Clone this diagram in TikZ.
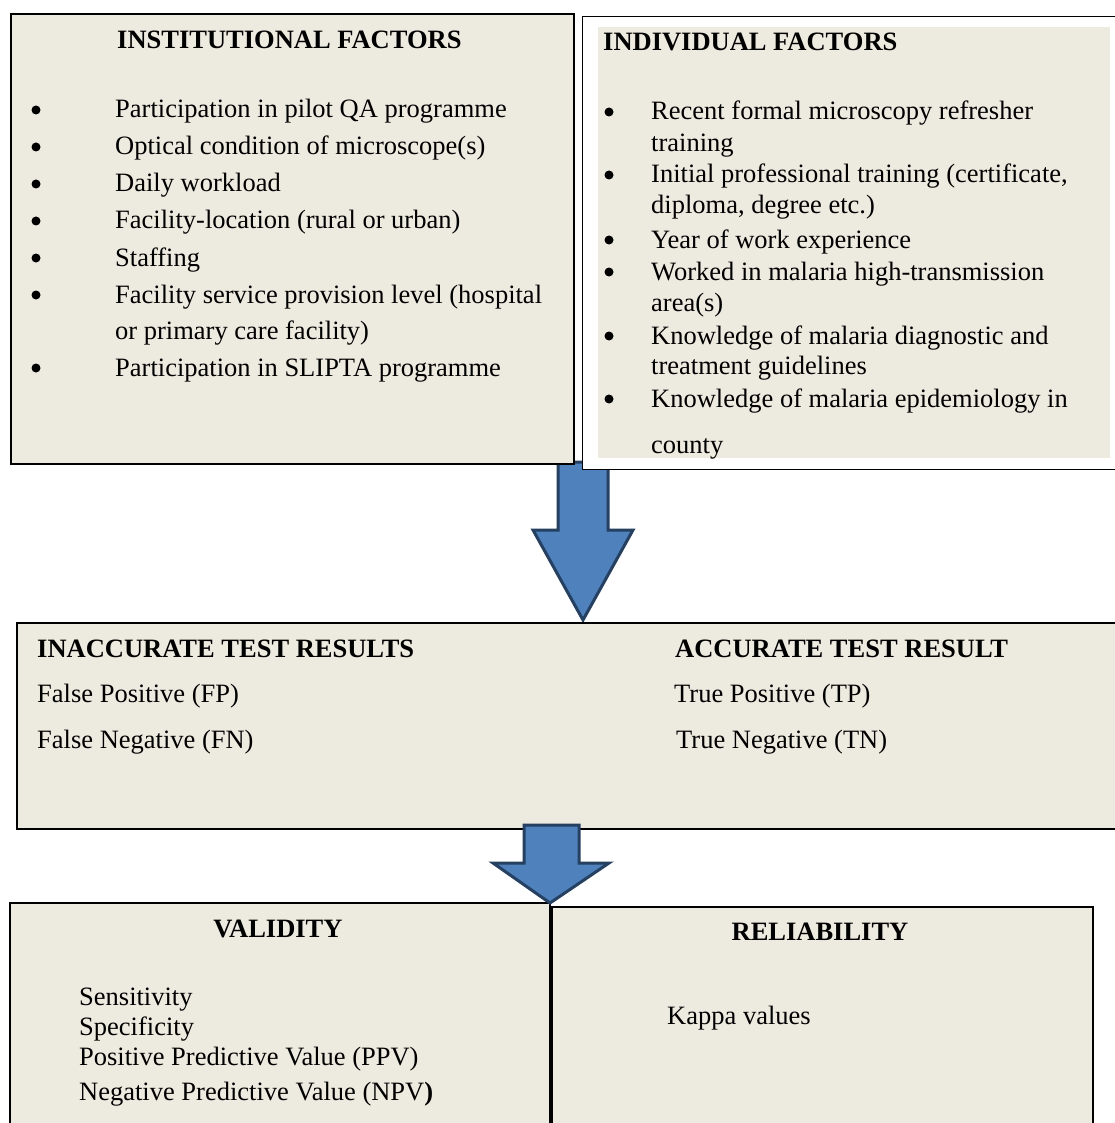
\documentclass[tikz,border=0pt]{standalone}
\usepackage{fontspec}
\setmainfont{Liberation Serif}
\definecolor{beige}{RGB}{237,234,224}
\definecolor{arrowfill}{RGB}{79,129,189}
\definecolor{arrowline}{RGB}{37,64,97}
\begin{document}
\begin{tikzpicture}[x=1pt,y=-1pt,
  box/.style={draw=black, line width=1.8pt, fill=beige, inner sep=0pt, anchor=north west},
  txt/.style={anchor=base west, inner sep=0pt, font=\fontsize{26.5}{30}\selectfont},
  hd/.style={anchor=base west, inner sep=0pt, font=\fontsize{26.5}{30}\selectfont\bfseries},
  hdc/.style={anchor=base, inner sep=0pt, font=\fontsize{26.5}{30}\selectfont\bfseries},
  bul/.style={circle, fill=black, inner sep=0pt, minimum size=9pt},
  blockarrow/.style={fill=arrowfill, draw=arrowline, line width=3pt, line join=miter}]
\useasboundingbox (0,0) rectangle (1114,1123);
% first block arrow (behind the top boxes)
\draw[blockarrow] (558,462) -- (608,462) -- (608,530) -- (633,530) -- (583,620) -- (533,530) -- (558,530) -- cycle;
% top boxes
\node[box, minimum width=563pt, minimum height=450pt] (inst) at (10,13) {};
\node[box, fill=white, line width=1.3pt, minimum width=536pt, minimum height=453pt] (indiv) at (582,16) {};
\node[anchor=north west, inner sep=0pt, fill=beige, minimum width=512pt, minimum height=431pt] (indivfill) at (598,27) {};
% middle box
\node[box, line width=1.6pt, minimum width=1110pt, minimum height=206pt] (result) at (16,622) {};
% bottom boxes
\node[box, minimum width=540pt, minimum height=240pt] (valid) at (9,902) {};
\node[box, minimum width=541pt, minimum height=240pt] (reliab) at (551,906) {};
% second block arrow
\draw[blockarrow] (524,825) -- (579,825) -- (579,863) -- (609,863) -- (550,903) -- (493,863) -- (524,863) -- cycle;

% institutional factors
\node[hd] (insth) at (117,49) {INSTITUTIONAL FACTORS};
\foreach \y [count=\i] in {118,155,192,229,266,303,376}
  \node[bul] (ib\i) at (36,\y-8) {};
\node[txt] (i1) at (115,118) {Participation in pilot QA programme};
\node[txt] (i2) at (115,155) {Optical condition of microscope(s)};
\node[txt] (i3) at (115,192) {Daily workload};
\node[txt] (i4) at (115,229) {Facility-location (rural or urban)};
\node[txt] (i5) at (115,266) {Staffing};
\node[txt] (i6) at (115,303) {Facility service provision level (hospital};
\node[txt] (i6b) at (115,339) {or primary care facility)};
\node[txt] (i7) at (115,376) {Participation in SLIPTA programme};

% individual factors
\node[hd] (indh) at (603,51) {INDIVIDUAL FACTORS};
\foreach \y [count=\i] in {120,183,248,280,344,407}
  \node[bul] (db\i) at (609,\y-8) {};
\node[txt] (d1) at (651,120) {Recent formal microscopy refresher};
\node[txt] (d1b) at (651,152) {training};
\node[txt] (d2) at (651,183) {Initial professional training (certificate,};
\node[txt] (d2b) at (651,214) {diploma, degree etc.)};
\node[txt] (d3) at (651,248) {Year of work experience};
\node[txt] (d4) at (651,280) {Worked in malaria high-transmission};
\node[txt] (d4b) at (651,311) {area(s)};
\node[txt] (d5) at (651,344) {Knowledge of malaria diagnostic and};
\node[txt] (d5b) at (651,374) {treatment guidelines};
\node[txt] (d6) at (651,407) {Knowledge of malaria epidemiology in};
\node[txt] (d6b) at (651,453) {county};

% results
\node[hd] (inacc) at (37,657) {INACCURATE TEST RESULTS};
\node[txt] (fp) at (37,702) {False Positive (FP)};
\node[txt] (fn) at (37,748) {False Negative (FN)};
\node[hd] (acc) at (675,657) {ACCURATE TEST RESULT};
\node[txt] (tp) at (674,702) {True Positive (TP)};
\node[txt] (tn) at (676,748) {True Negative (TN)};

% validity
\node[hdc] (validh) at (278,937) {VALIDITY};
\node[txt] (v1) at (79,1005) {Sensitivity};
\node[txt] (v2) at (79,1035) {Specificity};
\node[txt] (v3) at (79,1065) {Positive Predictive Value (PPV)};
\node[txt] (v4) at (79,1100) {Negative Predictive Value (NPV\textbf{)}};

% reliability
\node[hdc] (reliabh) at (820,940) {RELIABILITY};
\node[txt] (k1) at (667,1024) {Kappa values};
\end{tikzpicture}
\end{document}
